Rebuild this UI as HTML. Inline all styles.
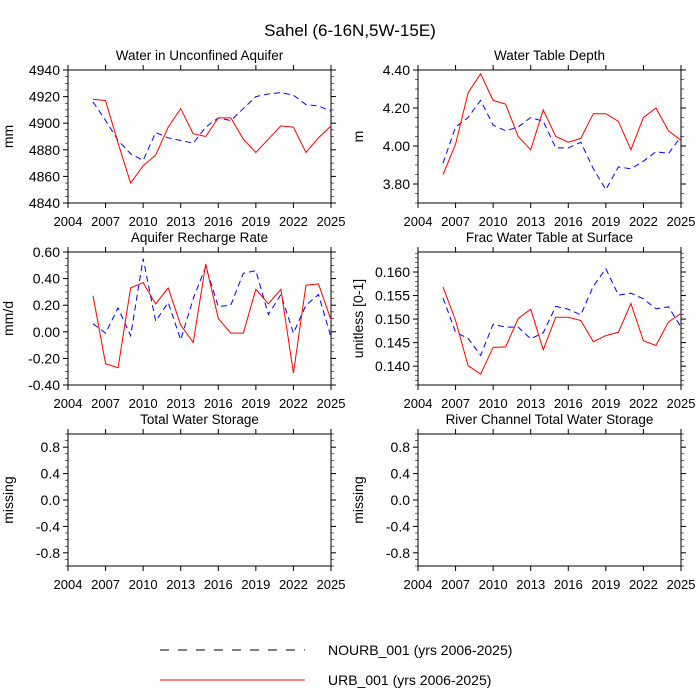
<!DOCTYPE html>
<html><head><meta charset="utf-8"><style>
html,body{margin:0;padding:0;background:#fff;}
svg{display:block;font-family:"Liberation Sans",sans-serif;}
</style></head><body>
<svg id="chart" width="700" height="700" viewBox="0 0 700 700">
<text x="350" y="36" text-anchor="middle" font-size="17">Sahel (6-16N,5W-15E)</text>
<g id="panels"></g>
<g>
<line x1="160" y1="650" x2="305" y2="650" stroke="#000" stroke-width="1" stroke-dasharray="9,9"/>
<text x="328" y="655" font-size="14">NOURB_001 (yrs 2006-2025)</text>
<line x1="160" y1="680" x2="305" y2="680" stroke="#ff0000" stroke-width="1"/>
<text x="328" y="685" font-size="14">URB_001 (yrs 2006-2025)</text>
</g>
</svg>
<script>
const years = [2006,2007,2008,2009,2010,2011,2012,2013,2014,2015,2016,2017,2018,2019,2020,2021,2022,2023,2024,2025];
const xTicks = [2004,2007,2010,2013,2016,2019,2022,2025];
const aqRed = [4918,4917,4885,4855,4868,4876,4897,4911,4892,4890,4904,4904,4888,4878,4888,4898,4897,4878,4889,4898];
const aqBlue = [4916,4902,4887,4877,4872,4893,4889,4887,4885,4897,4904,4902,4911,4920,4922,4923,4921,4914,4913,4909];
const aqTicks = [4840,4860,4880,4900,4920,4940];
const wtdRed = [3.85,4.01,4.28,4.38,4.24,4.22,4.05,3.98,4.19,4.05,4.02,4.04,4.17,4.17,4.13,3.98,4.15,4.20,4.08,4.03];
const wtdBlue = [3.91,4.10,4.15,4.24,4.11,4.08,4.10,4.15,4.13,3.99,3.99,4.02,3.88,3.77,3.89,3.88,3.92,3.97,3.96,4.05];
const wtdTicks = [3.80,4.00,4.20,4.40];
const rchRed = [0.27,-0.24,-0.27,0.33,0.37,0.21,0.33,0.05,-0.08,0.51,0.10,-0.01,-0.01,0.32,0.21,0.32,-0.31,0.35,0.36,0.09];
const rchBlue = [0.06,-0.01,0.18,-0.03,0.55,0.08,0.22,-0.06,0.25,0.49,0.19,0.20,0.44,0.46,0.13,0.28,-0.01,0.20,0.28,-0.04];
const rchTicks = [-0.40,-0.20,0.00,0.20,0.40,0.60];
const fwtRed = [0.1568,0.1497,0.1401,0.1383,0.1440,0.1441,0.1501,0.1521,0.1435,0.1504,0.1504,0.1497,0.1452,0.1465,0.1472,0.1533,0.1454,0.1444,0.1494,0.1512];
const fwtBlue = [0.1545,0.1472,0.1459,0.1423,0.1489,0.1483,0.1483,0.1458,0.1471,0.1527,0.1521,0.1509,0.1570,0.1607,0.1551,0.1555,0.1543,0.1522,0.1526,0.1483];
const fwtTicks = [0.140,0.145,0.150,0.155,0.160];
const missTicks = [-0.8,-0.4,0.0,0.4,0.8];

const NS='http://www.w3.org/2000/svg';
const root=document.getElementById('panels');
function mk(tag,attrs,parent){const e=document.createElementNS(NS,tag);for(const k in attrs)e.setAttribute(k,attrs[k]);parent.appendChild(e);return e;}

const panels=[
 {name:'aquifer-water',title:'Water in Unconfined Aquifer',ylab:'mm',x0:68,y0:70,y1:203,ymin:4840,ymax:4940,ticks:aqTicks,dec:0,minor:4,red:aqRed,blue:aqBlue},
 {name:'water-table-depth',title:'Water Table Depth',ylab:'m',x0:418,y0:70,y1:203,ymin:3.70,ymax:4.40,ticks:wtdTicks,dec:2,minor:4,red:wtdRed,blue:wtdBlue},
 {name:'recharge-rate',title:'Aquifer Recharge Rate',ylab:'mm/d',x0:68,y0:252,y1:385,ymin:-0.40,ymax:0.60,ticks:rchTicks,dec:2,minor:4,red:rchRed,blue:rchBlue},
 {name:'frac-water-table',title:'Frac Water Table at Surface',ylab:'unitless [0-1]',x0:418,y0:252,y1:385,ymin:0.136,ymax:0.16425,ticks:fwtTicks,dec:3,minor:5,red:fwtRed,blue:fwtBlue},
 {name:'total-water-storage',title:'Total Water Storage',ylab:'missing',x0:68,y0:434,y1:566,ymin:-1,ymax:1,ticks:missTicks,dec:1,minor:4,red:null,blue:null},
 {name:'river-storage',title:'River Channel Total Water Storage',ylab:'missing',x0:418,y0:434,y1:566,ymin:-1,ymax:1,ticks:missTicks,dec:1,minor:4,red:null,blue:null}
];
const W=263;
panels.forEach(p=>{
 const g=mk('g',{},root);
 
 
 const xs=v=>p.x0+(v-2004)/(2025-2004)*W;
 const ys=v=>p.y1-(v-p.ymin)/(p.ymax-p.ymin)*(p.y1-p.y0);
 const x1=p.x0+W;
 const t=mk('text',{x:p.x0+W/2,y:p.y0-10,'text-anchor':'middle','font-size':13.5},g);t.textContent=p.title;
 
 
 // x ticks
 xTicks.forEach(v=>{const x=xs(v);
  mk('line',{x1:x,y1:p.y1,x2:x,y2:p.y1+5,stroke:'#000'},g);
  mk('line',{x1:x,y1:p.y0,x2:x,y2:p.y0-5,stroke:'#000'},g);
  const l=mk('text',{x:x,y:p.y1+23,'text-anchor':'middle','font-size':13},g);l.textContent=v;
  
  
 });
 // y ticks
 const step=p.ticks[1]-p.ticks[0];
 for(let v=p.ticks[0]-step;v<=p.ymax+1e-9;v+=step/p.minor){
  if(v<p.ymin-1e-9)continue;
  const y=ys(v);
  mk('line',{x1:p.x0,y1:y,x2:p.x0-3,y2:y,stroke:'#000','stroke-width':0.6},g);
  mk('line',{x1:x1,y1:y,x2:x1+3,y2:y,stroke:'#000','stroke-width':0.6},g);
 }
 p.ticks.forEach(v=>{const y=ys(v);
  mk('line',{x1:p.x0,y1:y,x2:p.x0-5,y2:y,stroke:'#000'},g);
  mk('line',{x1:x1,y1:y,x2:x1+5,y2:y,stroke:'#000'},g);
  const l=mk('text',{x:p.x0-8,y:y+5,'text-anchor':'end','font-size':14},g);l.textContent=v.toFixed(p.dec);
  
  
 });
 mk('rect',{x:p.x0,y:p.y0,width:W,height:p.y1-p.y0,fill:'none',stroke:'#000','stroke-width':1},g);
 const cy=(p.y0+p.y1)/2, lx=p.x0-55;
 const yl=mk('text',{x:lx,y:cy,'text-anchor':'middle','font-size':14,transform:`rotate(-90 ${lx} ${cy})`},g);yl.textContent=p.ylab;
 
 
 if(p.blue){
  const pb=mk('polyline',{points:years.map((y,i)=>xs(y)+','+ys(p.blue[i])).join(' '),fill:'none',stroke:'#0000ff','stroke-width':1,'stroke-dasharray':'6,4'},g);
  
  
  const pr=mk('polyline',{points:years.map((y,i)=>xs(y)+','+ys(p.red[i])).join(' '),fill:'none',stroke:'#ff0000','stroke-width':1},g);
  
  
 }
});
</script>
</body></html>
